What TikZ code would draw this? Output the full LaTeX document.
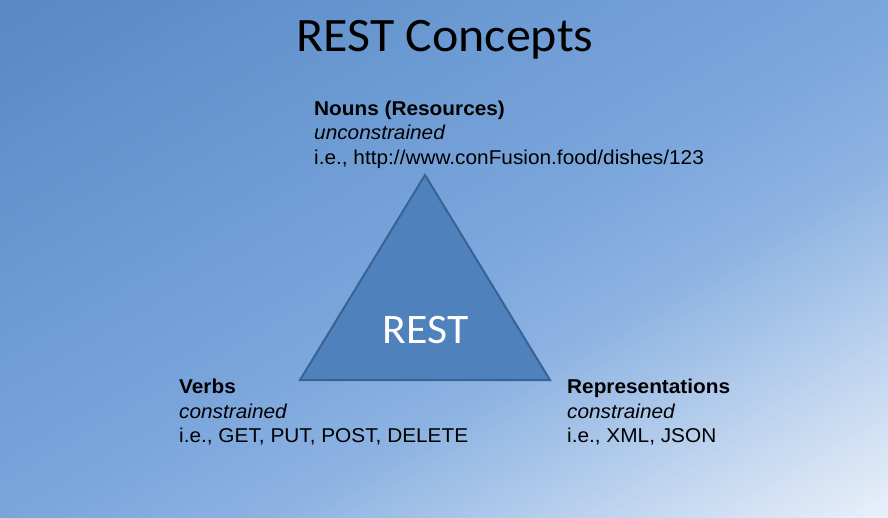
\documentclass[tikz,border=0pt]{standalone}
\usepackage{fontspec}
\setmainfont[FakeStretch=1.04]{Liberation Sans}
\newfontfamily\calibri[FakeStretch=1.04]{Carlito}
\definecolor{trifill}{RGB}{79,129,189}
\definecolor{triedge}{RGB}{58,98,148}
\begin{document}
\begin{tikzpicture}[x=1pt,y=-1pt,
  lbl/.style={anchor=base west, inner sep=0pt, font=\fontsize{20}{24}\selectfont, text=black},
  lblb/.style={lbl, font=\fontsize{20}{24}\selectfont\bfseries},
  lbli/.style={lbl, font=\fontsize{20}{24}\selectfont\itshape},
  tri/.style={fill=trifill, draw=triedge, line width=2pt}]
\useasboundingbox (0,0) rectangle (888,518);
\begin{scope}
\clip (0,0) rectangle (888,518);
\foreach \i in {0,...,199}{
  \pgfmathsetmacro\tv{(\i+0.5)/200}
  \pgfmathtruncatemacro\R{\tv<0.5 ? 88+68*\tv : (\tv<0.65 ? 122+(19/0.15)*(\tv-0.5) : 141+(93/0.35)*(\tv-0.65))}
  \pgfmathtruncatemacro\G{\tv<0.5 ? 137+58*\tv : (\tv<0.65 ? 166+(13/0.15)*(\tv-0.5) : 179+(62/0.35)*(\tv-0.65))}
  \pgfmathtruncatemacro\B{\tv<0.5 ? 197+46*\tv : (\tv<0.65 ? 220+(6/0.15)*(\tv-0.5) : 226+(24/0.35)*(\tv-0.65))}
  \definecolor{bgc}{RGB}{\R,\G,\B}
  \pgfmathsetmacro\sa{\i/100}
  \pgfmathsetmacro\sb{(\i+1.6)/100}
  \fill[bgc] ({\sa*888},0) -- ({\sb*888},0) -- (0,{\sb*518}) -- (0,{\sa*518}) -- cycle;
}
\end{scope}
\node[anchor=base, inner sep=0pt, font=\calibri\fontsize{48}{58}\selectfont] (title) at (445,51.7) {REST Concepts};
\coordinate (apex) at (425,175);
\coordinate (bl) at (300,380);
\coordinate (br) at (550,380);
\draw[tri] (apex) -- (br) -- (bl) -- cycle;
\node[anchor=base, inner sep=0pt, text=white, font=\calibri\fontsize{42}{50}\selectfont] (rest) at (425.5,343.3) {REST};
\node[lblb] (nouns) at (314,115.5) {Nouns (Resources)};
\node[lbli] (nounsc) at (314,140) {unconstrained};
\node[lbl] (nounse) at (314,164.3) {i.e., http://www.conFusion.food/dishes/123};
\node[lblb] (verbs) at (179,393.5) {Verbs};
\node[lbli] (verbsc) at (179,418) {constrained};
\node[lbl] (verbse) at (179,442.5) {i.e., GET, PUT, POST, DELETE};
\node[lblb] (reps) at (567,393.5) {Representations};
\node[lbli] (repsc) at (567,418) {constrained};
\node[lbl] (repse) at (567,442.5) {i.e., XML, JSON};
\end{tikzpicture}
\end{document}
